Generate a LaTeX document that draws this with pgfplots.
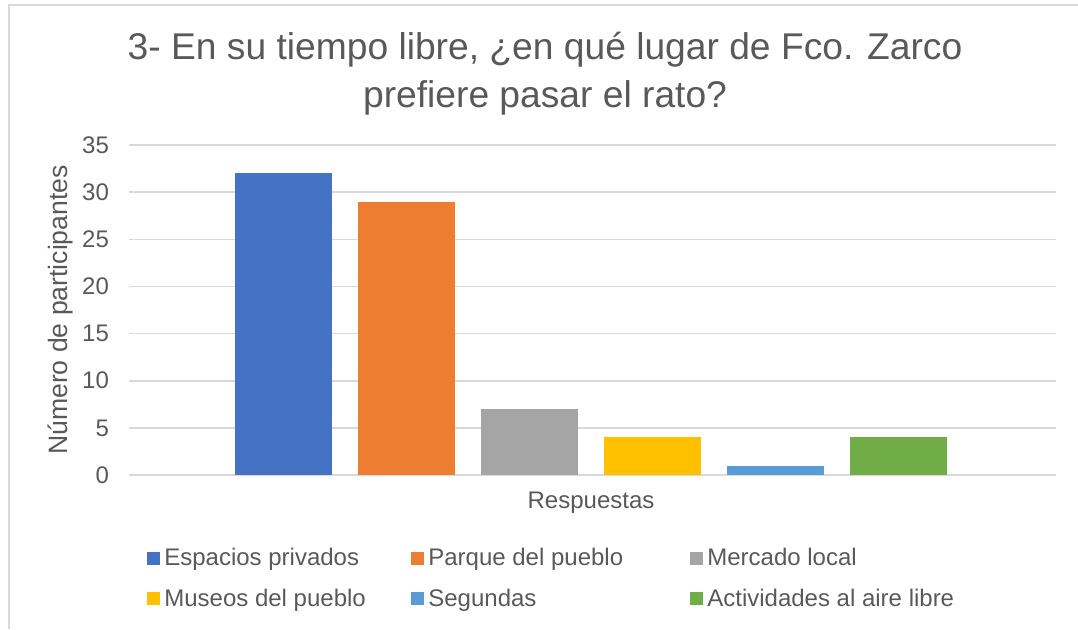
\documentclass[border=0pt]{standalone}
\usepackage{fontspec}
\setmainfont{Liberation Sans}
\usepackage{pgfplots}
\pgfplotsset{compat=1.18}

\definecolor{txt}{HTML}{595959}
\definecolor{gridc}{HTML}{D9D9D9}
\definecolor{c1}{HTML}{4472C4}
\definecolor{c2}{HTML}{ED7D31}
\definecolor{c3}{HTML}{A5A5A5}
\definecolor{c4}{HTML}{FFC000}
\definecolor{c5}{HTML}{5B9BD5}
\definecolor{c6}{HTML}{70AD47}

\begin{document}
\begin{tikzpicture}
\path[use as bounding box] (0,0) rectangle (539pt,-314.5pt);
% chart frame (only top and left edges visible)
\draw[gridc, line width=0.8pt] (4.5pt,-314.5pt) -- (4.5pt,-2.5pt) -- (539pt,-2.5pt);

\begin{axis}[
  at={(64.5pt,-237.5pt)}, anchor=south west,
  scale only axis, width=463.5pt, height=165pt,
  xmin=-1.256, xmax=6.28,
  ymin=0, ymax=35, ytick={0,5,...,35},
  xtick=\empty,
  axis line style={draw=none},
  major tick length=0pt,
  ymajorgrids, grid style={gridc, line width=0.8pt},
  tick label style={font=\fontsize{12}{14}\selectfont, text=txt},
  yticklabel style={xshift=-6.5pt},
  /pgf/number format/assume math mode=true,
  title={3- En su tiempo libre, ¿en qué lugar de Fco. Zarco\\prefiere pasar el rato?},
  title style={at={(0.4488,1.179)}, anchor=center, align=center,
    font=\fontsize{18.6}{24}\selectfont, text=txt},
  xlabel={Respuestas},
  xlabel style={at={(0.4984,-0.085)}, anchor=center,
    font=\fontsize{12}{14}\selectfont, text=txt},
  ylabel={Número de participantes},
  ylabel style={at={(-0.0744,0.5)}, anchor=center,
    font=\fontsize{13.3}{15}\selectfont, text=txt},
  legend columns=3,
  legend cell align=left,
  legend image code/.code={\fill[#1] (0pt,-3.25pt) rectangle (6.5pt,3.25pt);},
  legend style={draw=none, fill=none, at={(0.0194,-0.215)}, anchor=north west,
    font=\fontsize{12}{14}\selectfont, text=txt, inner sep=0pt,
    row sep=8pt,
    nodes={inner xsep=2pt, inner ysep=1pt}},
]
\addplot[ybar, bar shift=0pt, bar width=48.5pt, fill=c1, draw=none] coordinates {(0,32)};
\addlegendentry{\makebox[121.5pt][l]{Espacios privados}}
\addplot[ybar, bar shift=0pt, bar width=48.5pt, fill=c2, draw=none] coordinates {(1,29)};
\addlegendentry{\makebox[129pt][l]{Parque del pueblo}}
\addplot[ybar, bar shift=0pt, bar width=48.5pt, fill=c3, draw=none] coordinates {(2,7)};
\addlegendentry{Mercado local}
\addplot[ybar, bar shift=0pt, bar width=48.5pt, fill=c4, draw=none] coordinates {(3,4)};
\addlegendentry{\makebox[121.5pt][l]{Museos del pueblo}}
\addplot[ybar, bar shift=0pt, bar width=48.5pt, fill=c5, draw=none] coordinates {(4,1)};
\addlegendentry{\makebox[129pt][l]{Segundas}}
\addplot[ybar, bar shift=0pt, bar width=48.5pt, fill=c6, draw=none] coordinates {(5,4)};
\addlegendentry{Actividades al aire libre}
\end{axis}
\end{tikzpicture}
\end{document}
